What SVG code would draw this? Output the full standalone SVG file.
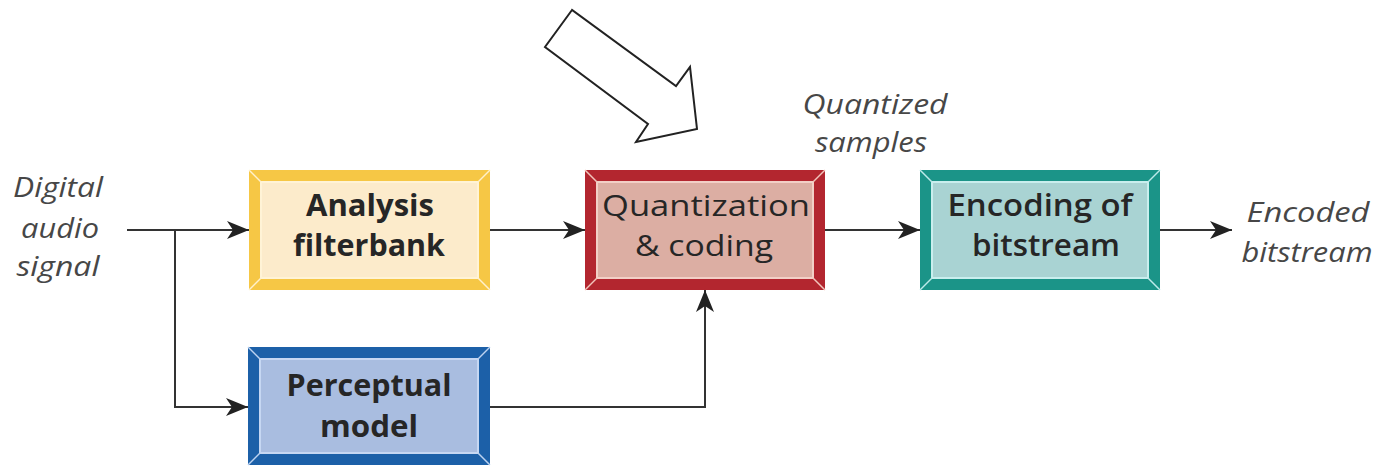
<svg xmlns="http://www.w3.org/2000/svg" width="1381" height="466" viewBox="0 0 1381 466">
<defs>
<style>
.lbl{font-family:"Open Sans","Liberation Sans",sans-serif;font-style:italic;font-size:27px;fill:#474747;text-anchor:middle}
.bt{font-family:"Open Sans","Liberation Sans",sans-serif;font-size:30px;fill:#262626;text-anchor:middle}
.b{font-weight:700}
.m{font-weight:600}
.n{font-weight:500}
.con{fill:none;stroke:#333;stroke-width:2}
.diag{stroke-width:1.5}
</style>
<marker id="ah" markerUnits="userSpaceOnUse" markerWidth="22" markerHeight="18" viewBox="0 0 22 18" refX="22" refY="9" orient="auto">
<path d="M0,0 L22,9 L0,18 L6,9 z" fill="#222"/>
</marker>
</defs>
<rect width="1381" height="466" fill="#fff"/>

<g id="hollow-arrow">
<polygon points="572,10 545,47 648,124 636,142 697,129 690,67 676,86" fill="#fff" stroke="#222" stroke-width="2" stroke-linejoin="miter"/>
</g>

<g id="connectors">
<path class="con" d="M127,230 H249" marker-end="url(#ah)"/>
<path class="con" d="M175,230 V407 H248" marker-end="url(#ah)"/>
<path class="con" d="M490,230 H585" marker-end="url(#ah)"/>
<path class="con" d="M825,230 H920" marker-end="url(#ah)"/>
<path class="con" d="M1160,230 H1232" marker-end="url(#ah)"/>
<path class="con" d="M490,407 H705 V290" marker-end="url(#ah)"/>
</g>

<g id="analysis">
<rect x="249" y="170" width="241" height="120" fill="#f6c745"/>
<rect x="261" y="182" width="217" height="96" fill="#fcebcb" stroke="#fff3d6" stroke-width="2"/>
<g stroke="#fff1cc" class="diag"><line x1="249" y1="170" x2="261" y2="182"/><line x1="490" y1="170" x2="478" y2="182"/><line x1="249" y1="290" x2="261" y2="278"/><line x1="490" y1="290" x2="478" y2="278"/></g>
<text class="bt b" x="370" y="216" textLength="128" lengthAdjust="spacingAndGlyphs">Analysis</text>
<text class="bt b" x="369" y="256" textLength="152" lengthAdjust="spacingAndGlyphs">filterbank</text>
</g>

<g id="quantization">
<rect x="585" y="170" width="240" height="120" fill="#b3262f"/>
<rect x="597" y="182" width="216" height="96" fill="#dcaea3" stroke="#f2cfc6" stroke-width="2"/>
<g stroke="#f2c4bb" class="diag"><line x1="585" y1="170" x2="597" y2="182"/><line x1="825" y1="170" x2="813" y2="182"/><line x1="585" y1="290" x2="597" y2="278"/><line x1="825" y1="290" x2="813" y2="278"/></g>
<text class="bt n" x="706" y="216" textLength="208" lengthAdjust="spacingAndGlyphs">Quantization</text>
<text class="bt n" x="704" y="256" textLength="138" lengthAdjust="spacingAndGlyphs">&amp; coding</text>
</g>

<g id="encoding">
<rect x="920" y="170" width="240" height="120" fill="#1b9488"/>
<rect x="932" y="182" width="216" height="96" fill="#a9d3d3" stroke="#c9eeee" stroke-width="2"/>
<g stroke="#bdeaea" class="diag"><line x1="920" y1="170" x2="932" y2="182"/><line x1="1160" y1="170" x2="1148" y2="182"/><line x1="920" y1="290" x2="932" y2="278"/><line x1="1160" y1="290" x2="1148" y2="278"/></g>
<text class="bt m" x="1040" y="216" textLength="185" lengthAdjust="spacingAndGlyphs">Encoding of</text>
<text class="bt m" x="1046" y="256" textLength="148" lengthAdjust="spacingAndGlyphs">bitstream</text>
</g>

<g id="perceptual">
<rect x="248" y="347" width="242" height="118" fill="#1c60a8"/>
<rect x="260" y="359" width="218" height="94" fill="#a9bde0" stroke="#c6d7f2" stroke-width="2"/>
<g stroke="#bcd2f0" class="diag"><line x1="248" y1="347" x2="260" y2="359"/><line x1="490" y1="347" x2="478" y2="359"/><line x1="248" y1="465" x2="260" y2="453"/><line x1="490" y1="465" x2="478" y2="453"/></g>
<text class="bt b" x="369" y="396" textLength="165" lengthAdjust="spacingAndGlyphs">Perceptual</text>
<text class="bt b" x="369" y="437" textLength="98" lengthAdjust="spacingAndGlyphs">model</text>
</g>

<g id="input-label">
<text class="lbl" x="58" y="197" textLength="90" lengthAdjust="spacingAndGlyphs">Digital</text>
<text class="lbl" x="60" y="238" textLength="78" lengthAdjust="spacingAndGlyphs">audio</text>
<text class="lbl" x="58" y="276" textLength="83" lengthAdjust="spacingAndGlyphs">signal</text>
</g>

<g id="samples-label">
<text class="lbl" x="875" y="114" textLength="145" lengthAdjust="spacingAndGlyphs">Quantized</text>
<text class="lbl" x="871" y="152" textLength="112" lengthAdjust="spacingAndGlyphs">samples</text>
</g>

<g id="output-label">
<text class="lbl" x="1308" y="222" textLength="123" lengthAdjust="spacingAndGlyphs">Encoded</text>
<text class="lbl" x="1307" y="262" textLength="131" lengthAdjust="spacingAndGlyphs">bitstream</text>
</g>
</svg>
